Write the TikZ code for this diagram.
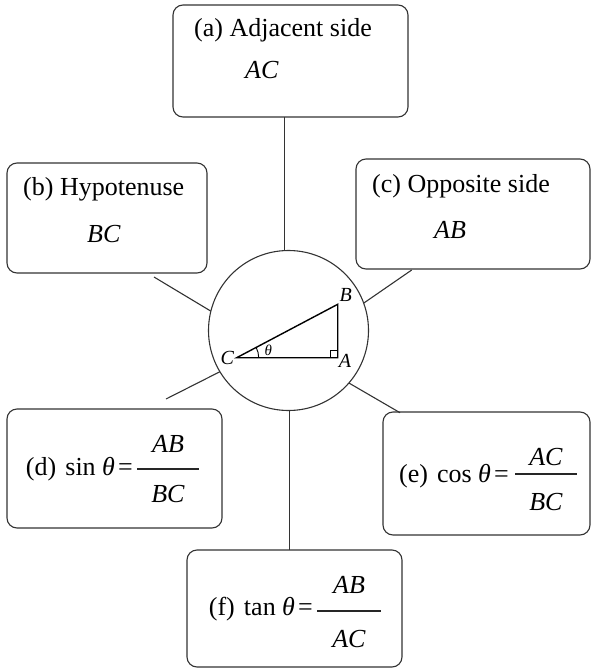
\documentclass[tikz,border=0pt]{standalone}
\usepackage{fontspec}
\setmainfont{Liberation Serif}
\usetikzlibrary{calc}
\tikzset{
  box/.style={draw=black!80, line width=1.1pt, rounded corners=10pt, inner sep=0pt, outer sep=0pt},
  conn/.style={draw=black!80, line width=1.1pt},
  txt/.style={anchor=base west, inner sep=0pt, font=\fontsize{26}{30}\selectfont},
  etxt/.style={anchor=base east, inner sep=0pt, font=\fontsize{26}{30}\selectfont},
  ctxt/.style={anchor=base, inner sep=0pt, font=\fontsize{26}{30}\selectfont},
  lbl/.style={inner sep=0pt, font=\fontsize{20}{24}\selectfont},
  tri/.style={draw=black, line width=1.4pt},
  frac/.style={draw=black!85, line width=1.1pt}
}
\begin{document}
\begin{tikzpicture}[x=1pt,y=-1pt]
\useasboundingbox (0,0) rectangle (593,670);
% boxes
\node[box, minimum width=235, minimum height=112] (a) at (290.5,61) {};
\node[box, minimum width=200, minimum height=110] (b) at (107,218) {};
\node[box, minimum width=234, minimum height=110] (c) at (473,214) {};
\node[box, minimum width=215, minimum height=119] (d) at (114.5,468.5) {};
\node[box, minimum width=207, minimum height=123] (e) at (486.5,473.5) {};
\node[box, minimum width=215, minimum height=117] (f) at (294.5,608.5) {};
% centre circle
\node[draw=black!80, line width=1.1pt, circle, minimum size=160, inner sep=0pt, outer sep=0pt] (circ) at (288.5,330.5) {};
% texts
\node[txt] (ta) at (194,36) {(a) Adjacent side};
\node[txt] (ta2) at (245,78) {\textit{AC}};
\node[txt] (tb) at (23,195) {(b) Hypotenuse};
\node[txt] (tb2) at (87,242) {\textit{BC}};
\node[txt] (tc) at (372,192) {(c) Opposite side};
\node[txt] (tc2) at (434,238) {\textit{AB}};
\node[etxt] (td) at (133,475) {(d)\hspace{0.35em}sin \textit{θ}\hspace{0.12em}=};
\node[ctxt] (dn) at (168,452) {\textit{AB}};
\node[ctxt] (dd) at (168,502) {\textit{BC}};
\coordinate (d1) at (137,469); \coordinate (d2) at (199,469);
\draw[frac] (d1) -- (d2);
\node[etxt] (te) at (509,482) {(e)\hspace{0.35em}cos \textit{θ}\hspace{0.12em}=};
\node[ctxt] (en) at (546,465) {\textit{AC}};
\node[ctxt] (ed) at (546,510) {\textit{BC}};
\coordinate (e1) at (515,474); \coordinate (e2) at (577,474);
\draw[frac] (e1) -- (e2);
\node[etxt] (tf) at (313,615) {(f)\hspace{0.35em}tan \textit{θ}\hspace{0.12em}=};
\node[ctxt] (fn) at (349,593) {\textit{AB}};
\node[ctxt] (fd) at (349,647) {\textit{AC}};
\coordinate (f1) at (317,611); \coordinate (f2) at (381,611);
\draw[frac] (f1) -- (f2);
% connectors
\coordinate (bend) at (154,277);
\coordinate (cend) at (411.7,270);
\coordinate (dend) at (166,399);
\coordinate (eend) at (400,412.7);
\draw[conn] (circ.93) -- (circ.93 |- a.south);
\draw[conn] (circ.-89) -- (circ.-89 |- f.north);
\draw[conn] (circ.166.4) -- (bend);
\draw[conn] (circ.20.4) -- (cend);
\draw[conn] (circ.211.9) -- (dend);
\draw[conn] (circ.-41.1) -- (eend);
% triangle
\coordinate (C) at (236.7,357.7);
\coordinate (A) at (337.7,357.7);
\coordinate (B) at (337.7,304.3);
\draw[tri, line join=miter] (C) -- (A) -- (B) -- cycle;
\draw[black, line width=0.9pt] ($(A)+(-7,0)$) -- ++(0,-7) -- ++(7,0);
\draw[black, line width=0.9pt] ($(C)+(22,0)$) arc[start angle=0, end angle=-27.9, radius=22];
\node[lbl] (lB) at (345.7,295) {\textit{B}};
\node[lbl] (lC) at (227.3,358.3) {\textit{C}};
\node[lbl] (lA) at (345,361) {\textit{A}};
\node[lbl, font=\fontsize{15}{18}\selectfont] (lt) at (268.3,350) {\textit{θ}};
\end{tikzpicture}
\end{document}
